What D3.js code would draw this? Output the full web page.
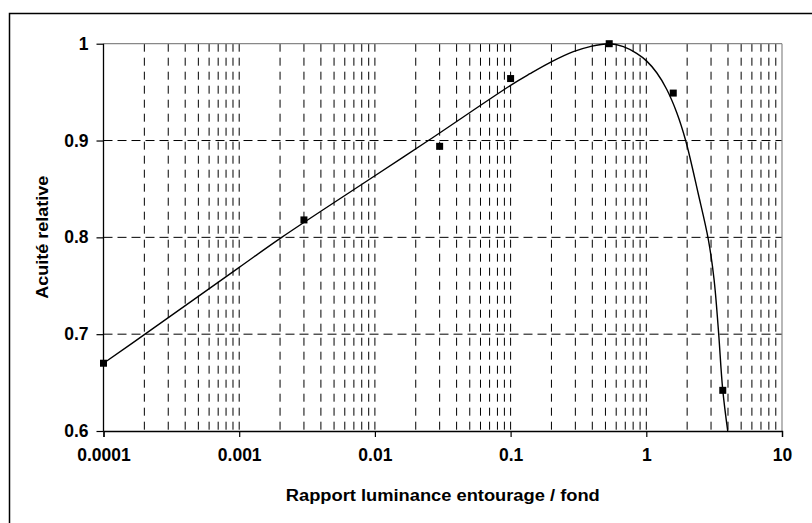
<!DOCTYPE html>
<html>
<head>
<meta charset="utf-8">
<script src="https://cdn.jsdelivr.net/npm/d3@7"></script>
<style>
  html, body { margin: 0; padding: 0; background: #fff; }
  svg { display: block; }
  text { font-family: "Liberation Sans", Arial, sans-serif; font-weight: bold; fill: #000; }
</style>
</head>
<body>
<svg id="chart" width="812" height="523"></svg>
<script>
// Measured points: luminance ratio (surround / background) vs relative acuity
const measuredRatio  = [0.0001, 0.003, 0.030, 0.100, 0.533, 1.58, 3.66];
const measuredAcuity = [0.670, 0.818, 0.894, 0.964, 1.000, 0.949, 0.642];

// Fitted curve through the measurements
const fitRatio  = [0.0001, 0.0002023, 0.001, 0.002056, 0.01, 0.02477, 0.1, 0.139, 0.201, 0.290,
                   0.385, 0.533, 0.678, 0.849, 1.007, 1.194, 1.413, 1.675, 1.950, 2.415,
                   2.864, 3.155, 3.396, 3.656, 3.981];
const fitAcuity = [0.670, 0.700, 0.769, 0.800, 0.8636, 0.900, 0.957, 0.969, 0.9815, 0.9918,
                   0.997, 1.000, 0.997, 0.990, 0.982, 0.970, 0.953, 0.929, 0.900, 0.845,
                   0.798, 0.757, 0.705, 0.643, 0.600];

// Axis ticks
const xTickValues = [0.0001, 0.001, 0.01, 0.1, 1, 10];
const xTickLabels = ["0.0001", "0.001", "0.01", "0.1", "1", "10"];
const yTickValues = [0.6, 0.7, 0.8, 0.9, 1.0];
const yTickLabels = ["0.6", "0.7", "0.8", "0.9", "1"];

const xTitle = "Rapport luminance entourage / fond";
const yTitle = "Acuité relative";

const svg = d3.select("#chart");
const plotLeft = 103.5, plotRight = 782, plotTop = 43.7, plotBottom = 431;

const x = d3.scaleLog().domain([0.0001, 10]).range([plotLeft, plotRight]);
const y = d3.scaleLinear().domain([0.6, 1.0]).range([plotBottom, plotTop]);

// Outer frame (left and top edges fall inside the page)
svg.append("rect")
  .attr("x", 9.5).attr("y", 13.5).attr("width", 900).attr("height", 600)
  .attr("fill", "none").attr("stroke", "#000").attr("stroke-width", 1.5);

// Vertical grid: every 1..9 multiple of each decade inside the domain
const vGrid = [];
for (let e = -4; e <= 0; e++) {
  for (let m = 1; m <= 9; m++) {
    const v = m * Math.pow(10, e);
    if (v > 0.0001 * 1.0001) vGrid.push(v);
  }
}
svg.append("g").selectAll("line").data(vGrid).join("line")
  .attr("x1", d => x(d)).attr("x2", d => x(d))
  .attr("y1", plotTop).attr("y2", plotBottom)
  .attr("stroke", "#000").attr("stroke-width", 1)
  .attr("stroke-dasharray", "8,6");

// Horizontal grid
svg.append("g").selectAll("line").data([0.7, 0.8, 0.9]).join("line")
  .attr("x1", plotLeft).attr("x2", plotRight)
  .attr("y1", d => y(d)).attr("y2", d => y(d))
  .attr("stroke", "#000").attr("stroke-width", 1)
  .attr("stroke-dasharray", "9,5");

// Plot area top and right edges
svg.append("line").attr("x1", plotLeft).attr("x2", plotRight).attr("y1", plotTop).attr("y2", plotTop)
  .attr("stroke", "#888").attr("stroke-width", 1.2);
svg.append("line").attr("x1", plotRight).attr("x2", plotRight).attr("y1", plotTop).attr("y2", plotBottom)
  .attr("stroke", "#888").attr("stroke-width", 1.2);

// Axes
const xAxis = d3.axisBottom(x).tickValues(xTickValues)
  .tickFormat((d, i) => xTickLabels[i]).tickSize(6).tickPadding(12);
const gx = svg.append("g").attr("transform", `translate(0,${plotBottom})`).call(xAxis);
gx.select(".domain").attr("stroke", "#000").attr("stroke-width", 1.3);
gx.selectAll(".tick line").attr("stroke", "#000").attr("stroke-width", 1.2);
gx.selectAll(".tick text").style("font-size", "17.5px").attr("dy", "0.71em");

const yAxis = d3.axisLeft(y).tickValues(yTickValues)
  .tickFormat((d, i) => yTickLabels[i]).tickSize(7).tickPadding(8);
const gy = svg.append("g").attr("transform", `translate(${plotLeft},0)`).call(yAxis);
gy.select(".domain").attr("stroke", "#000").attr("stroke-width", 1.3)
  .attr("d", `M0,${plotBottom}V${plotTop}`);
gy.selectAll(".tick line").attr("stroke", "#000").attr("stroke-width", 1.2);
gy.selectAll(".tick text").style("font-size", "17.5px");

// Fitted curve
const line = d3.line()
  .x((d, i) => x(fitRatio[i]))
  .y(d => y(d))
  .curve(d3.curveCatmullRom.alpha(0.5));
svg.append("path")
  .attr("d", line(fitAcuity))
  .attr("fill", "none").attr("stroke", "#000").attr("stroke-width", 1.4);

// Measured points
svg.append("g").selectAll("rect").data(measuredAcuity).join("rect")
  .attr("x", (d, i) => x(measuredRatio[i]) - 3.5)
  .attr("y", d => y(d) - 3.5)
  .attr("width", 7).attr("height", 7)
  .attr("fill", "#000");

// Axis titles
svg.append("text")
  .attr("x", (plotLeft + plotRight) / 2).attr("y", 501)
  .attr("text-anchor", "middle")
  .attr("textLength", 314).attr("lengthAdjust", "spacingAndGlyphs")
  .style("font-size", "16px")
  .text(xTitle);

svg.append("text")
  .attr("transform", `translate(48,${(plotTop + plotBottom) / 2}) rotate(-90)`)
  .attr("text-anchor", "middle")
  .attr("textLength", 123).attr("lengthAdjust", "spacingAndGlyphs")
  .style("font-size", "16.5px")
  .text(yTitle);
</script>
</body>
</html>
